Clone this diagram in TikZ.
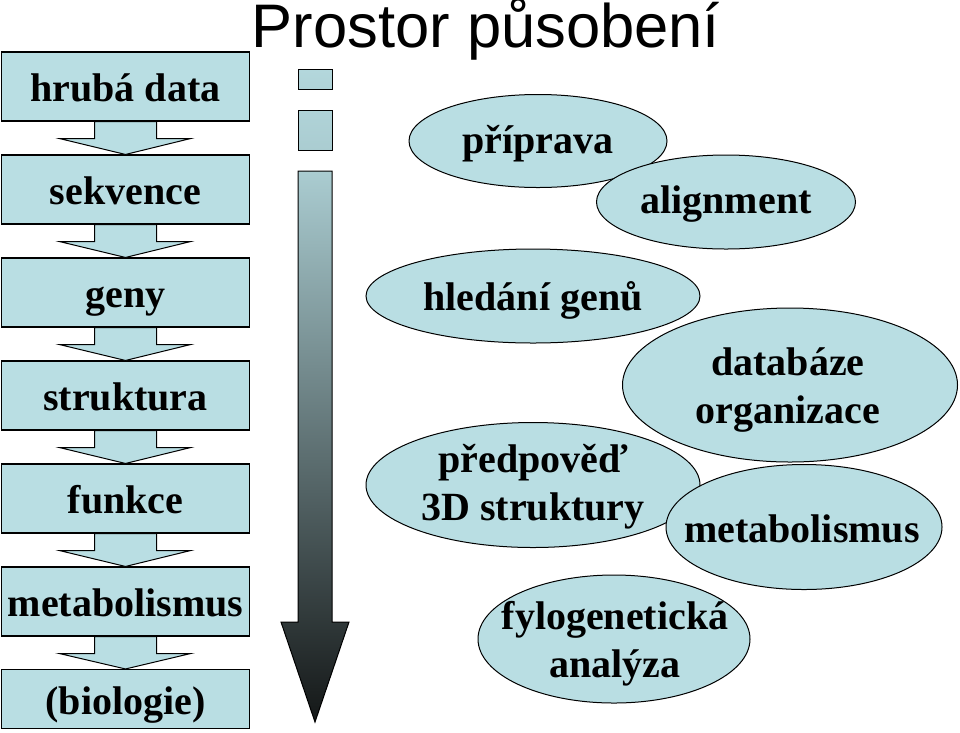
\documentclass[tikz,border=0pt]{standalone}
\usepackage{fontspec}
\setmainfont{Liberation Serif}
\newfontfamily\titlefont{Liberation Sans}
\usetikzlibrary{shapes.geometric}
\definecolor{pale}{HTML}{B9DEE3}
\definecolor{darkend}{HTML}{141717}
\definecolor{midgray}{HTML}{7F8F91}
\begin{document}
\begin{tikzpicture}[x=1pt,y=-1pt,
  boxnode/.style={draw=black, fill=pale, line width=1.1pt, minimum width=248pt, minimum height=69pt,
    inner sep=0pt, font=\fontsize{40}{48}\selectfont\bfseries, text height=30pt, text depth=0pt},
  flow/.style={draw=black, fill=pale, line width=1pt, line join=miter},
  oval/.style={ellipse, draw=black, fill=pale, line width=1pt, inner sep=0pt},
  lbl/.style={font=\fontsize{40}{48}\selectfont\bfseries, align=center, inner sep=0pt, anchor=base},
]
\useasboundingbox (0,0) rectangle (960,732);

% title
\node[anchor=base, inner sep=0pt, font=\titlefont\fontsize{61.5}{66}\selectfont] (title) at (486,47) {Prostor působení};

% left column boxes
\node[boxnode] (b1) at (125.5,86.5) {hrubá data};
\node[boxnode] (b2) at (125.5,189.5) {sekvence};
\node[boxnode] (b3) at (125.5,292.5) {geny};
\node[boxnode] (b4) at (125.5,395.5) {struktura};
\node[boxnode] (b5) at (125.5,498.5) {funkce};
\node[boxnode] (b6) at (125.5,601.5) {metabolismus};
\node[boxnode, minimum height=59pt] (b7) at (125.5,699) {(biologie)};

% block arrows between boxes
\foreach \a/\b in {b1/b2,b2/b3,b3/b4,b4/b5,b5/b6,b6/b7}{
  \draw[flow] ([xshift=-31pt]\a.south) -- ++(0,17) -- ++(-35,0) -- (\b.north)
     -- ([xshift=65pt,yshift=-17pt]\a.south) -- ++(-34,0) -- ([xshift=31pt]\a.south) -- cycle;
}

% gradient arrow
\shade[top color=pale!97!black, bottom color=pale!95!black, draw=black, line width=1pt] (298,69) rectangle (332,89);
\shade[top color=pale!95!black, bottom color=pale!92!black, draw=black, line width=1pt] (298,110) rectangle (332,150);
\shade[top color=pale!92!black, middle color=midgray, bottom color=darkend, draw=black, line width=1pt, line join=miter]
  (298,171) -- (332,171) -- (332,622) -- (349,622) -- (315,722) -- (281,622) -- (298,622) -- cycle;

% ellipses
\node[oval, minimum width=258pt, minimum height=93pt] (e1) at (538,141) {};
\node[oval, minimum width=259pt, minimum height=94pt] (e2) at (726,202) {};
\node[oval, minimum width=334pt, minimum height=94pt] (e3) at (533,296) {};
\node[oval, minimum width=335pt, minimum height=154pt] (e4) at (790,385) {};
\node[oval, minimum width=334pt, minimum height=125pt] (e5) at (533,485) {};
\node[oval, minimum width=276pt, minimum height=125pt] (e6) at (804,527) {};
\node[oval, minimum width=272pt, minimum height=128pt] (e7) at (614,639) {};

% ellipse labels
\node[lbl] (t1) at (538,153) {příprava};
\node[lbl] (t2) at (726,213) {alignment};
\node[lbl] (t3) at (533,310) {hledání genů};
\node[lbl] (t4) at (788,423) {databáze\\organizace};
\node[lbl] (t5) at (533,520) {předpověď\\3D struktury};
\node[lbl] (t6) at (802,542) {metabolismus};
\node[lbl] (t7) at (615,677) {fylogenetická\\analýza};
\end{tikzpicture}
\end{document}
